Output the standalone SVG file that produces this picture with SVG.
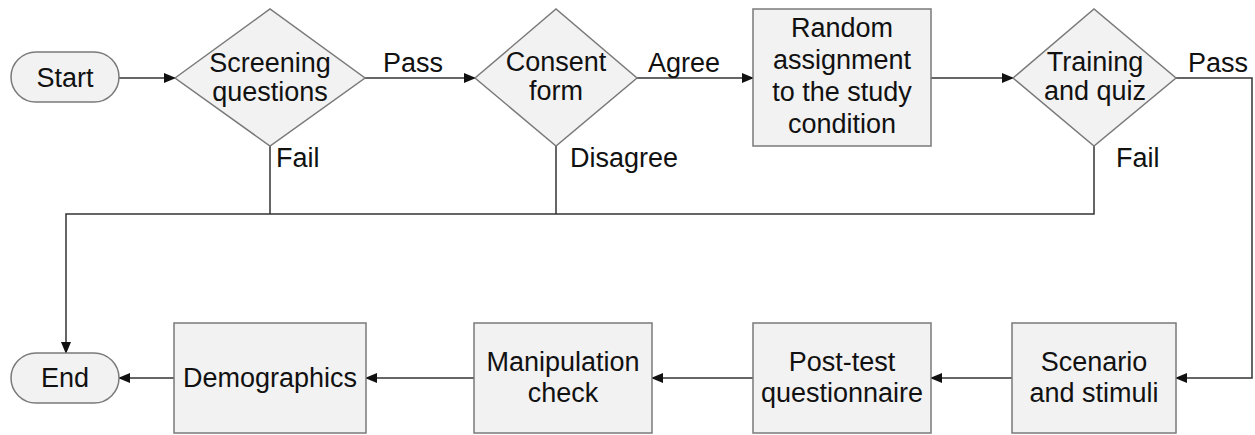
<svg xmlns="http://www.w3.org/2000/svg" width="1255" height="435" viewBox="0 0 1255 435">
<defs>
<marker id="arr" markerWidth="12" markerHeight="10" refX="11" refY="5" orient="auto" markerUnits="userSpaceOnUse">
<path d="M0,0 L12,5 L0,10 Z" fill="#111"/>
</marker>
</defs>
<style>
.shape{fill:#f2f2f2;stroke:#7a7a7a;stroke-width:1.5}
.conn{fill:none;stroke:#333;stroke-width:1.5}
text{font-family:"Liberation Sans",Arial,sans-serif;font-size:27px;fill:#111}
.c{text-anchor:middle}
</style>
<rect width="1255" height="435" fill="#ffffff"/>
<g id="connectors">
<line class="conn" x1="119" y1="78" x2="175" y2="78" marker-end="url(#arr)"/>
<line class="conn" x1="365" y1="78" x2="475" y2="78" marker-end="url(#arr)"/>
<line class="conn" x1="637" y1="78" x2="753" y2="78" marker-end="url(#arr)"/>
<line class="conn" x1="931" y1="78" x2="1013" y2="78" marker-end="url(#arr)"/>
<polyline class="conn" points="1176,78 1252,78 1252,378 1176,378" marker-end="url(#arr)"/>
<line class="conn" x1="1012" y1="378" x2="931" y2="378" marker-end="url(#arr)"/>
<line class="conn" x1="753" y1="378" x2="652" y2="378" marker-end="url(#arr)"/>
<line class="conn" x1="474" y1="378" x2="366" y2="378" marker-end="url(#arr)"/>
<line class="conn" x1="174" y1="378" x2="119" y2="378" marker-end="url(#arr)"/>
<polyline class="conn" points="270,146 270,214"/>
<polyline class="conn" points="556,146 556,214"/>
<polyline class="conn" points="1094,146 1094,214 66,214 66,353" marker-end="url(#arr)"/>
<text x="383" y="72">Pass</text>
<text x="648" y="72">Agree</text>
<text x="1188" y="72">Pass</text>
<text x="276" y="167">Fail</text>
<text x="570" y="167">Disagree</text>
<text x="1116" y="167">Fail</text>
</g>
<g id="start">
<rect class="shape" x="11" y="52" width="108" height="50" rx="25" ry="25"/>
<text class="c" x="65" y="86.5">Start</text>
</g>
<g id="screening">
<polygon class="shape" points="175,78 270,9 365,78 270,146"/>
<text class="c" x="270" y="72">Screening</text>
<text class="c" x="270" y="101">questions</text>
</g>
<g id="consent">
<polygon class="shape" points="475,78 556,9 637,78 556,146"/>
<text class="c" x="556" y="71">Consent</text>
<text class="c" x="556" y="100">form</text>
</g>
<g id="random">
<rect class="shape" x="753" y="9" width="178" height="137"/>
<text class="c" x="842" y="37">Random</text>
<text class="c" x="842" y="69">assignment</text>
<text class="c" x="842" y="101">to the study</text>
<text class="c" x="842" y="133">condition</text>
</g>
<g id="training">
<polygon class="shape" points="1013,78 1094,9 1176,78 1094,146"/>
<text class="c" x="1095" y="71">Training</text>
<text class="c" x="1095" y="100">and quiz</text>
</g>
<g id="scenario">
<rect class="shape" x="1012" y="323" width="164" height="110"/>
<text class="c" x="1094" y="371">Scenario</text>
<text class="c" x="1094" y="402">and stimuli</text>
</g>
<g id="posttest">
<rect class="shape" x="753" y="323" width="178" height="110"/>
<text class="c" x="842" y="371">Post-test</text>
<text class="c" x="842" y="402">questionnaire</text>
</g>
<g id="manipulation">
<rect class="shape" x="474" y="323" width="178" height="110"/>
<text class="c" x="563" y="371">Manipulation</text>
<text class="c" x="563" y="402">check</text>
</g>
<g id="demographics">
<rect class="shape" x="174" y="323" width="192" height="110"/>
<text class="c" x="270" y="387">Demographics</text>
</g>
<g id="end">
<rect class="shape" x="11" y="353" width="108" height="50" rx="25" ry="25"/>
<text class="c" x="65" y="387">End</text>
</g>
</svg>
